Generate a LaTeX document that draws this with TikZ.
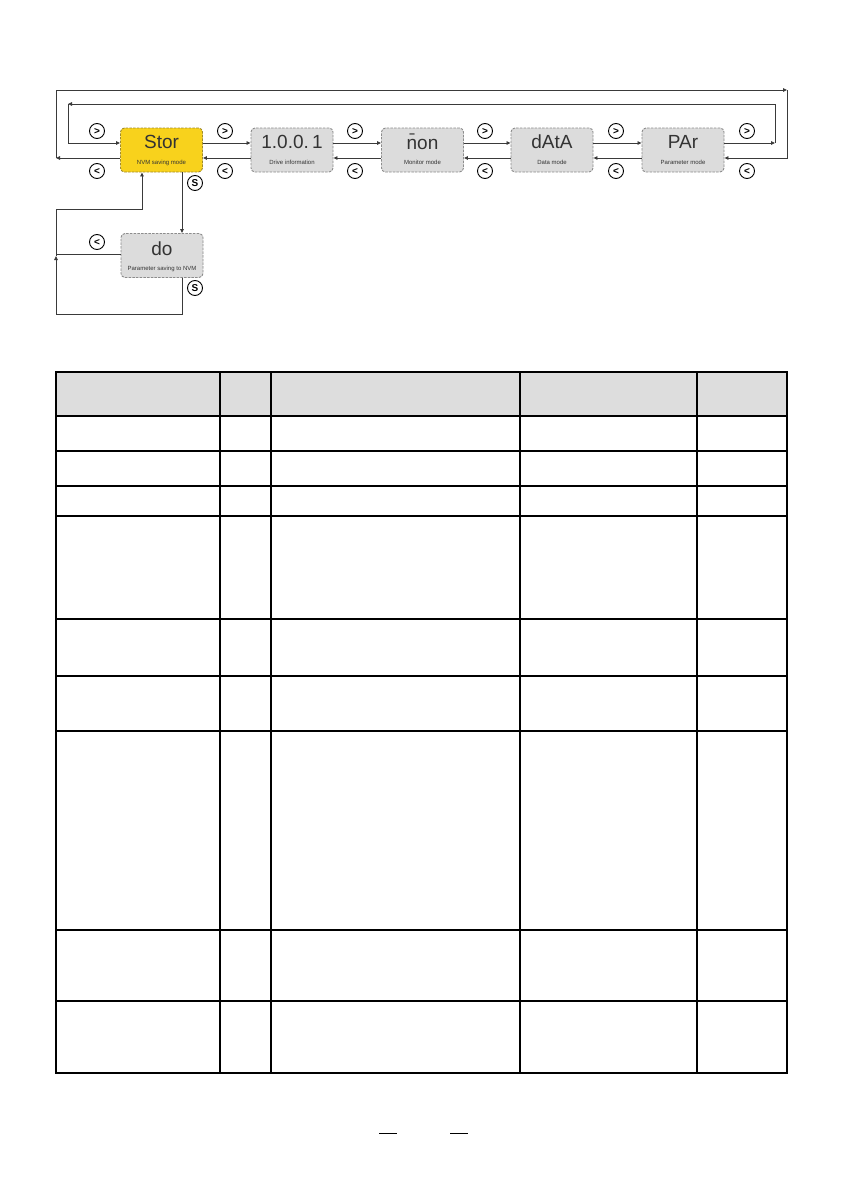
\documentclass[tikz,border=0pt]{standalone}
\usepackage{fontspec}
\setmainfont{Liberation Sans}
\usetikzlibrary{arrows.meta}
\definecolor{boxgray}{HTML}{DCDCDC}
\definecolor{boxedge}{HTML}{8C8C8C}
\definecolor{storyellow}{HTML}{F8D21C}
\definecolor{storedge}{HTML}{A08A2A}
\definecolor{linec}{HTML}{3A3A3A}
\definecolor{hdrgray}{HTML}{DDDDDD}
\tikzset{
  modebox/.style={draw=boxedge, fill=boxgray, dash pattern=on 2.5pt off 1.2pt, line width=0.9pt, rounded corners=4pt, minimum width=82pt, minimum height=44pt, inner sep=0pt},
  disp/.style={font=\fontsize{19}{19}\selectfont, text=black!80, inner sep=0pt},
  lbl/.style={font=\fontsize{6}{7}\selectfont, text=black!80, inner sep=0pt},
  conn/.style={draw=linec, line width=0.85pt},
  arr/.style={conn, -{Triangle[length=4pt, width=3.5pt]}},
  keyc/.style={circle, draw=black, line width=0.9pt, minimum size=15pt, inner sep=0pt, font=\fontsize{10}{10}\selectfont\bfseries},
  tbl/.style={draw=black, line width=1.2pt},
}
\begin{document}
\begin{tikzpicture}[x=1pt, y=-1pt]
\useasboundingbox (0,0) rectangle (845,1191);
% mode boxes
\node[modebox, fill=storyellow, draw=storedge] (stor) at (161.5,150) {};
\node[modebox] (drv) at (292,150) {};
\node[modebox] (mon) at (422.5,150) {};
\node[modebox] (dat) at (552,150) {};
\node[modebox] (par) at (683,150) {};
\node[modebox] (do) at (162,255.5) {};
% display texts
\node[disp] (stor-d) at (161.5,142) {Stor};
\node[disp] (drv-d) at (292,142) {1.0.0.\,1};
\node[disp] (mon-d) at (422.5,142) {\=non};
\node[disp] (dat-d) at (552,142) {dAtA};
\node[disp] (par-d) at (683,142) {PAr};
\node[disp] (do-d) at (162,249) {do};
% labels
\node[lbl] (stor-l) at (161.5,162.5) {NVM saving mode};
\node[lbl] (drv-l) at (292,162.5) {Drive information};
\node[lbl] (mon-l) at (422.5,162.5) {Monitor mode};
\node[lbl] (dat-l) at (552,162.5) {Data mode};
\node[lbl] (par-l) at (683,162.5) {Parameter mode};
\node[lbl] (do-l) at (162,268.5) {Parameter saving to NVM};
% forward / backward arrows between boxes
\draw[arr] ([yshift=7pt]stor.east) -- ([yshift=7pt]drv.west);
\draw[arr] ([yshift=-8pt]drv.west) -- ([yshift=-8pt]stor.east);
\draw[arr] ([yshift=7pt]drv.east) -- ([yshift=7pt]mon.west);
\draw[arr] ([yshift=-8pt]mon.west) -- ([yshift=-8pt]drv.east);
\draw[arr] ([yshift=7pt]mon.east) -- ([yshift=7pt]dat.west);
\draw[arr] ([yshift=-8pt]dat.west) -- ([yshift=-8pt]mon.east);
\draw[arr] ([yshift=7pt]dat.east) -- ([yshift=7pt]par.west);
\draw[arr] ([yshift=-8pt]par.west) -- ([yshift=-8pt]dat.east);
% outer loop (backward wrap)
\coordinate (oL) at (56,158);
\coordinate (oTL) at (56,90);
\coordinate (oTR) at (787,90);
\coordinate (oR) at (787,158);
\draw[arr] ([yshift=-8pt]stor.west) -- (oL);
\draw[arr] (oL) -- (oTL) -- (oTR);
\draw[arr] (oTR) -- (oR) -- ([yshift=-8pt]par.east);
% inner loop (forward wrap)
\coordinate (iR) at (775,143);
\coordinate (iTR) at (775,104);
\coordinate (iTL) at (68,104);
\coordinate (iL) at (68,143);
\draw[arr] ([yshift=7pt]par.east) -- (iR);
\draw[arr] (iR) -- (iTR) -- (iTL);
\draw[arr] (iTL) -- (iL) -- ([yshift=7pt]stor.west);
% NVM saving branch
\coordinate (sA) at (182,172);
\coordinate (sB) at (182,233);
\draw[arr] (stor.south -| sA) -- (do.north -| sB);
\coordinate (dB) at (182,314);
\coordinate (bL) at (56,314);
\coordinate (mA) at (56,256);
\coordinate (uL) at (56,209);
\coordinate (uR) at (142,209);
\draw[arr] (do.south -| dB) -- (dB) -- (bL) -- (mA);
\draw[arr] (mA) -- (uL) -- (uR) -- (stor.south -| uR);
\coordinate (dL) at (56,254);
\draw[conn] (do.west |- dL) -- (dL);
% key symbols
\node[keyc] (k1) at (97,131) {>};
\node[keyc] (k2) at (97,171) {<};
\node[keyc] (k3) at (225,131) {>};
\node[keyc] (k4) at (225,171) {<};
\node[keyc] (k5) at (355,131) {>};
\node[keyc] (k6) at (355,171) {<};
\node[keyc] (k7) at (485,131) {>};
\node[keyc] (k8) at (485,171) {<};
\node[keyc] (k9) at (616,131) {>};
\node[keyc] (k10) at (616,171) {<};
\node[keyc] (k11) at (747,131) {>};
\node[keyc] (k12) at (747,171) {<};
\node[keyc] (k13) at (97,242) {<};
\node[keyc] (s1) at (195,183) {S};
\node[keyc] (s2) at (195,288) {S};
% table
\fill[hdrgray] (56,372) rectangle (787,416);
\draw[tbl] (56,372) rectangle (787,1073);
\foreach \yy in {416,451,486,516,619,676,731,930,1001} {
  \draw[tbl] (56,\yy) -- (787,\yy);
}
\foreach \xx in {220,271,520,697} {
  \draw[tbl] (\xx,372) -- (\xx,1073);
}
% bottom marks
\draw[line width=1pt] (379,1133) -- (397,1133);
\draw[line width=1pt] (450,1133) -- (468,1133);
\end{tikzpicture}
\end{document}
